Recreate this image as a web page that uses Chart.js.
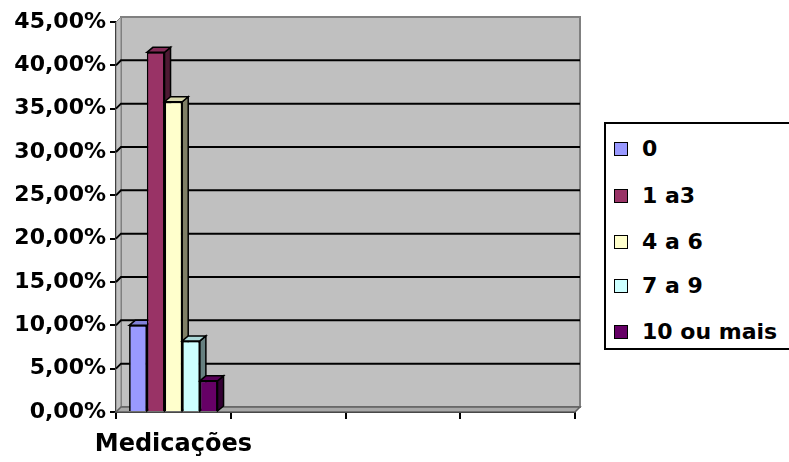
<!DOCTYPE html>
<html>
<head>
<meta charset="utf-8">
<script src="https://cdn.jsdelivr.net/npm/chart.js@4.4.1/dist/chart.umd.min.js"></script>
<style>
  body { margin: 0; background: #fff; }
  #wrap { position: relative; width: 789px; height: 462px; }
  #legend {
    position: absolute; left: 604px; top: 122px; width: 183px; height: 224px;
    border: 2px solid #000; background: #fff;
    font: bold 22px "DejaVu Sans", sans-serif; color: #000;
  }
  .item { position: absolute; left: 8px; height: 26px; line-height: 26px; white-space: nowrap; }
  .box { display: inline-block; width: 12px; height: 12px; border: 1.5px solid #000; vertical-align: 0px; margin-right: 14px; }
</style>
</head>
<body>
<div id="wrap">
  <canvas id="chart" width="789" height="462"></canvas>
  <div id="legend"></div>
</div>
<script>
// data
const categories = ["Medicações", "", "", ""];
const seriesNames = ["0", "1 a3", "4 a 6", "7 a 9", "10 ou mais"];
const seriesValues = [
  [10.0, null, null, null],
  [41.5, null, null, null],
  [35.8, null, null, null],
  [8.2, null, null, null],
  [3.6, null, null, null]
];
const seriesColors = ["#9999FF", "#993366", "#FFFFCC", "#CCFFFF", "#660066"];
const yTicks = [0, 5, 10, 15, 20, 25, 30, 35, 40, 45];

const DX = 6, DY = -5;   // depth of the fake 3D
const WX = 5, WY = -5;   // offset of the back wall

function shade(hex, f) {
  const n = parseInt(hex.slice(1), 16);
  const r = Math.round(((n >> 16) & 255) * f);
  const g = Math.round(((n >> 8) & 255) * f);
  const b = Math.round((n & 255) * f);
  return `rgb(${r},${g},${b})`;
}

function poly(ctx, pts, fill, stroke, lw) {
  ctx.beginPath();
  ctx.moveTo(pts[0][0], pts[0][1]);
  pts.slice(1).forEach(p => ctx.lineTo(p[0], p[1]));
  ctx.closePath();
  if (fill) { ctx.fillStyle = fill; ctx.fill(); }
  if (stroke) { ctx.strokeStyle = stroke; ctx.lineWidth = lw || 1; ctx.stroke(); }
}

// walls, floor, gridlines and 3D faces, excel style
const wallPlugin = {
  id: "wall",
  beforeDatasetsDraw(chart) {
    const { ctx, chartArea: a, scales } = chart;
    ctx.save();
    // back wall
    poly(ctx, [[a.left + WX, a.top + WY], [a.right + WX, a.top + WY], [a.right + WX, a.bottom + WY], [a.left + WX, a.bottom + WY]], "#C0C0C0", "#808080", 2);
    // left wall
    poly(ctx, [[a.left, a.top], [a.left + WX, a.top + WY], [a.left + WX, a.bottom + WY], [a.left, a.bottom]], "#C0C0C0", "#808080", 1);
    // gridlines
    yTicks.forEach(v => {
      if (v === 0 || v === 45) return;
      const y = scales.y.getPixelForValue(v);
      ctx.beginPath();
      ctx.moveTo(a.left, y);
      ctx.lineTo(a.left + WX, y + WY);
      ctx.lineTo(a.right + WX, y + WY);
      ctx.strokeStyle = "#000";
      ctx.lineWidth = 2;
      ctx.stroke();
    });
    // floor
    poly(ctx, [[a.left, a.bottom], [a.right, a.bottom], [a.right + WX, a.bottom + WY], [a.left + WX, a.bottom + WY]], "#A8A8A8", "#606060", 1.5);
    ctx.restore();
  },
  afterDatasetsDraw(chart) {
    // redraw the bars left to right so each one hides the side of the previous
    const ctx = chart.ctx;
    chart.data.datasets.forEach((ds, d) => {
      const meta = chart.getDatasetMeta(d);
      meta.data.forEach((bar, i) => {
        if (ds.data[i] == null) return;
        const l = bar.x - bar.width / 2, r = bar.x + bar.width / 2;
        const t = bar.y, b = bar.base;
        ctx.save();
        poly(ctx, [[r, t], [r + DX, t + DY], [r + DX, b + DY], [r, b]], shade(ds.backgroundColor, 0.5), "#000", 1.5);
        poly(ctx, [[l, t], [l + DX, t + DY], [r + DX, t + DY], [r, t]], shade(ds.backgroundColor, 0.85), "#000", 1.5);
        ctx.restore();
        bar.draw(ctx);
      });
    });
  }
};

const datasets = seriesNames.map((name, i) => ({
  label: name,
  data: seriesValues[i],
  backgroundColor: seriesColors[i],
  borderColor: "#000",
  borderWidth: 1.5
}));

const tickFont = { family: "DejaVu Sans", size: 22, weight: "bold" };

new Chart(document.getElementById("chart"), {
  type: "bar",
  data: { labels: categories, datasets: datasets },
  options: {
    responsive: false,
    animation: false,
    layout: { padding: { top: 22, right: 214, left: 0, bottom: 0 } },
    plugins: { legend: { display: false }, tooltip: { enabled: false } },
    datasets: { bar: { categoryPercentage: 0.77, barPercentage: 1 } },
    scales: {
      x: {
        grid: { drawOnChartArea: false, color: "#000", lineWidth: 2, tickLength: 7 },
        border: { color: "#000", width: 2 },
        ticks: {
          color: "#000", font: { family: "DejaVu Sans", size: 24, weight: "bold" },
          padding: 11, maxRotation: 0, autoSkip: false
        },
        afterFit: s => { s.height = 50; }
      },
      y: {
        min: 0, max: 45,
        afterBuildTicks: s => { s.ticks = yTicks.map(v => ({ value: v })); },
        grid: { drawOnChartArea: false, color: "#000", lineWidth: 2, tickLength: 6 },
        border: { color: "#000", width: 2 },
        ticks: {
          color: "#000", font: tickFont, padding: 4,
          callback: v => v.toFixed(2).replace(".", ",") + "%"
        },
        afterFit: s => { s.width = 116; }
      }
    }
  },
  plugins: [wallPlugin]
});

// legend box
const legend = document.getElementById("legend");
const rowTops = [12, 59, 105, 149, 195];
seriesNames.forEach((name, i) => {
  const row = document.createElement("div");
  row.className = "item";
  row.style.top = rowTops[i] + "px";
  row.innerHTML = `<span class="box" style="background:${seriesColors[i]}"></span>${name}`;
  legend.appendChild(row);
});
</script>
</body>
</html>
